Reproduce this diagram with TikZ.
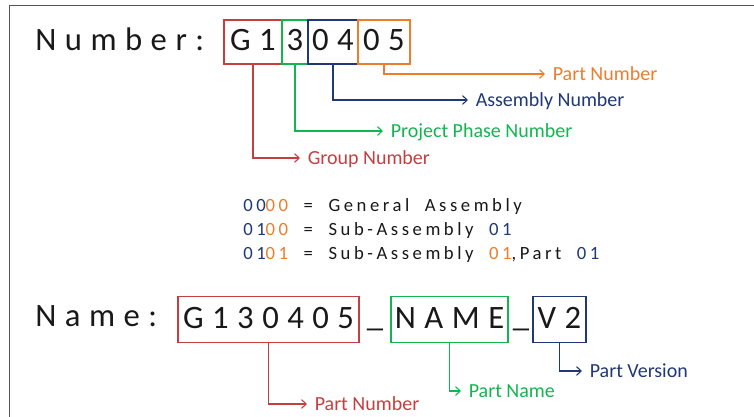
\documentclass[tikz,border=0pt]{standalone}
\usepackage{fontspec}
\setmainfont{Carlito}
\newfontfamily\widefont[LetterSpace=26]{Carlito}
\newfontfamily\keyfont[LetterSpace=19, WordSpace=2.0]{Carlito}
\usetikzlibrary{arrows.meta}

\definecolor{cred}{RGB}{196,64,64}
\definecolor{cgreen}{RGB}{20,180,80}
\definecolor{cblue}{RGB}{32,56,120}
\definecolor{corange}{RGB}{236,125,45}
\definecolor{cframe}{RGB}{85,85,85}
\definecolor{ctext}{RGB}{25,25,25}

\newlength\pix
\setlength\pix{0.75pt}

\tikzset{
  bigtxt/.style={inner sep=0pt, text=ctext, font=\widefont\fontsize{24.5}{28}\selectfont},
  digbox/.style={bigtxt, draw=#1, line width=1.6\pix, minimum height=44\pix,
    text height=21\pix, text depth=3\pix},
  lbl/.style={anchor=west, text=#1, inner xsep=7.5\pix, inner ysep=0pt,
    text height=9.7pt, text depth=0pt, font=\fontsize{15}{18}\selectfont},
  conn/.style={line width=1.1\pix, -{Straight Barb[length=3.5pt,width=6.5pt]}},
  keyline/.style={anchor=west, inner sep=0pt, text=ctext,
    font=\keyfont\fontsize{14}{16}\selectfont}
}

\begin{document}
\begin{tikzpicture}[x=0.75pt, y=-0.75pt]
\useasboundingbox (0,0) rectangle (754,417);
\draw[cframe, line width=1.5\pix] (9.5,417) -- (9.5,5.5) -- (754,5.5);

% number line
\node[bigtxt, anchor=base west] (numtxt) at (35,51) {Number:};
\node[digbox=cred,    minimum width=58\pix] (grp) at (253,42) {G1};
\node[digbox=cgreen,  minimum width=26\pix] (phs) at (295,42) {3};
\node[digbox=cblue,   minimum width=50\pix] (asm) at (333,42) {04};
\node[digbox=corange, minimum width=52\pix] (prt) at (384,42) {05};

\node[lbl=corange] (prt-lbl) at (545,74)  {Part Number};
\node[lbl=cblue]   (asm-lbl) at (468,100) {Assembly Number};
\node[lbl=cgreen]  (phs-lbl) at (383,131) {Project Phase Number};
\node[lbl=cred]    (grp-lbl) at (300,158) {Group Number};

\foreach \b/\c in {grp/cred, phs/cgreen, asm/cblue, prt/corange}
  \draw[conn, \c] (\b.south) |- (\b-lbl.west);

% key for the assembly digits
\node[keyline] (key1) at (243,207) {\textcolor{cblue}{00}\textcolor{corange}{00} = General Assembly};
\node[keyline] (key2) at (243,231) {\textcolor{cblue}{01}\textcolor{corange}{00} = Sub-Assembly \textcolor{cblue}{01}};
\node[keyline] (key3) at (243,255) {\textcolor{cblue}{01}\textcolor{corange}{01} = Sub-Assembly \textcolor{corange}{01},Part \textcolor{cblue}{01}};

% name line
\node[bigtxt, anchor=base west] (nametxt) at (35,326) {Name:};
\node[digbox=cred,   minimum width=181\pix, minimum height=46\pix] (npn) at (268.5,319.5) {G130405};
\node[bigtxt, anchor=base] (us1) at (375,326) {\_};
\node[digbox=cgreen, minimum width=117\pix, minimum height=46\pix] (nnm) at (449.5,319.5) {NAME};
\node[bigtxt, anchor=base] (us2) at (521,326) {\_};
\node[digbox=cblue,  minimum width=53\pix,  minimum height=46\pix] (nvr) at (559.5,319.5) {V2};

\node[lbl=cred]   (npn-lbl) at (307,404) {Part Number};
\node[lbl=cgreen] (nnm-lbl) at (461,391) {Part Name};
\node[lbl=cblue]  (nvr-lbl) at (582,371) {Part Version};

\foreach \b/\c in {npn/cred, nnm/cgreen, nvr/cblue}
  \draw[conn, \c] (\b.south) |- (\b-lbl.west);
\end{tikzpicture}
\end{document}
